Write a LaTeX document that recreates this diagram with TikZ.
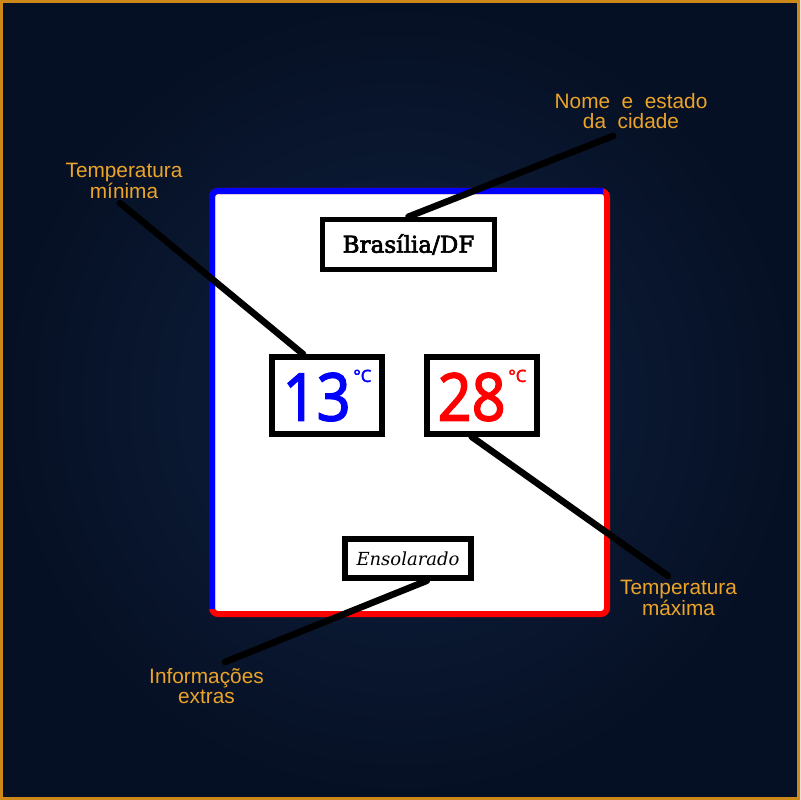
\documentclass[tikz,border=0pt]{standalone}
\usepackage{fontspec}
\setmainfont{Liberation Sans}
\newfontfamily\slabfont[FakeBold=3]{DejaVu Serif}
\newfontfamily\italfont{DejaVu Serif}
\newfontfamily\digitfont[FakeBold=2]{Noto Sans}
\definecolor{navyin}{RGB}{14,33,64}
\definecolor{navyout}{RGB}{6,16,36}
\definecolor{goldline}{RGB}{204,136,24}
\definecolor{goldtext}{RGB}{236,164,40}
\definecolor{tblue}{RGB}{0,0,255}
\definecolor{tred}{RGB}{255,0,0}
\tikzset{
  infobox/.style={draw=black,fill=white,line width=0.14cm,inner sep=0pt},
  callout/.style={text=goldtext,font=\fontsize{14.8}{14.4}\selectfont,align=center},
  pointer/.style={line width=0.165cm,line cap=round},
}
\newcommand{\tempval}[2]{{\digitfont\color{#1}\fontsize{47}{50}\selectfont\scalebox{0.9}[1]{#2}\hspace{2pt}\raisebox{27.5pt}{\fontsize{12}{14}\selectfont °C}}}
\begin{document}
\begin{tikzpicture}[x=0.025cm,y=-0.025cm]
				\useasboundingbox (0,0) rectangle (800,800);
				\shade[inner color=navyin,outer color=navyout] (0,0) rectangle (800,800);
				\draw[goldline,line width=0.075cm] (1.5,1.5) rectangle (798.5,798.5);
				\draw[tred,fill=white,line width=0.15cm,rounded corners=0.15cm] (212,191) rectangle (607,614);
				\draw[tblue,line width=0.15cm,rounded corners=0.15cm] (212,609) -- (212,191) -- (603,191);
				\node[infobox,minimum width=4.3cm,minimum height=1.25cm] (city) at (408.5,244.5) {\slabfont\fontsize{16.4}{18}\selectfont Brasília/DF};
				\node[infobox,minimum width=2.75cm,minimum height=1.925cm] (tmin) at (327,395.5) {\tempval{tblue}{13}};
				\node[infobox,minimum width=2.75cm,minimum height=1.925cm] (tmax) at (482,395.5) {\tempval{tred}{28}};
				\node[infobox,minimum width=3.15cm,minimum height=0.975cm] (extra) at (408,558.5) {\italfont\itshape\fontsize{12.8}{14}\selectfont Ensolarado};
				\node[callout] (nome) at (631,111) {Nome\ \ e\ \ estado\\da\ \ cidade};
				\node[callout] (minlbl) at (124,181) {Temperatura\\mínima};
				\node[callout] (maxlbl) at (678.5,598) {Temperatura\\máxima};
				\node[callout] (extlbl) at (206.5,686) {Informações\\extras};
				\coordinate (nomept) at (613,136);
				\coordinate (minpt) at (120,203);
				\coordinate (maxpt) at (668,576);
				\coordinate (extrapt) at (225,662);
				\draw[pointer] (city.north) -- (nomept);
				\draw[pointer] (tmin.120) -- (minpt);
				\draw[pointer] (tmax.256) -- (maxpt);
				\draw[pointer] (extra.-50) -- (extrapt);
			\end{tikzpicture}
\end{document}
